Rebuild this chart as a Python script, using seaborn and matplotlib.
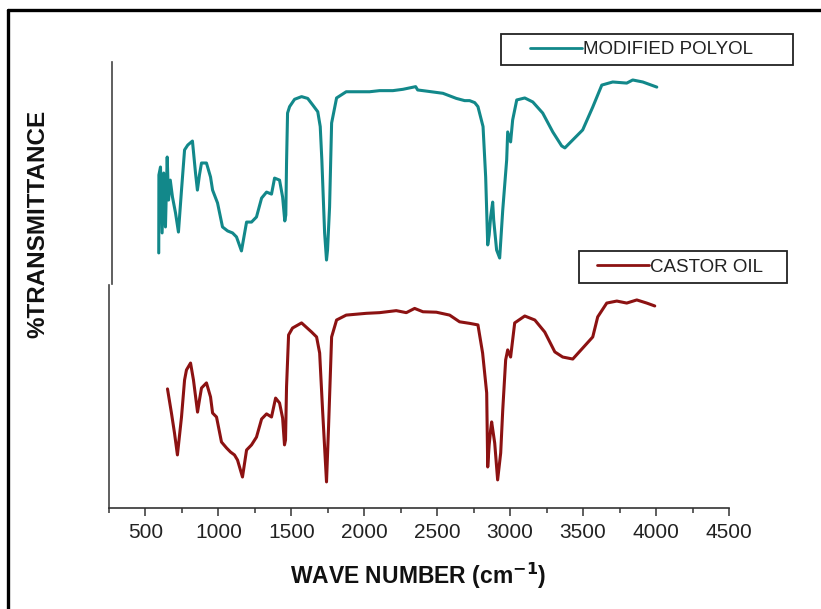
import matplotlib
matplotlib.use("Agg")
import matplotlib.pyplot as plt
from matplotlib.lines import Line2D
from matplotlib.patches import Rectangle
from matplotlib.ticker import MultipleLocator, FixedLocator
import pandas as pd
import seaborn as sns

# FTIR spectra: wavenumber (cm^-1) and relative transmittance (%)
polyol_wn = [591, 592, 603, 614, 625, 637, 649, 658, 670, 685, 706, 726, 747, 768, 790,
             822, 843, 856, 870, 884, 918, 946, 960, 994, 1028, 1063, 1097, 1124, 1158,
             1193, 1227, 1261, 1296, 1330, 1364, 1385, 1419, 1440, 1455, 1462, 1467, 1474,
             1488, 1522, 1570, 1612, 1647, 1681, 1698, 1709, 1728, 1741, 1748, 1762, 1776,
             1810, 1876, 2036, 2105, 2196, 2265, 2352, 2366, 2425, 2539, 2631, 2688, 2722,
             2757, 2779, 2814, 2832, 2846, 2856, 2866, 2880, 2887, 2907, 2928, 2949, 2976,
             2983, 3003, 3017, 3045, 3100, 3155, 3223, 3292, 3353, 3375, 3408, 3497, 3566,
             3628, 3703, 3799, 3840, 3909, 4005]
polyol_t = [14.0, 49.1, 52.7, 23.0, 50.0, 25.7, 57.2, 37.8, 46.8, 39.2, 32.0, 23.4, 42.3,
            60.4, 62.6, 64.4, 50.0, 42.3, 49.1, 54.5, 54.5, 48.2, 42.3, 36.5, 25.7, 23.9,
            23.0, 21.2, 14.9, 27.9, 27.9, 30.2, 38.7, 41.4, 40.5, 47.7, 46.8, 39.2, 28.4,
            31.1, 54.5, 77.0, 79.9, 83.2, 84.4, 83.6, 80.6, 77.6, 70.9, 55.9, 23.0, 10.8,
            15.3, 34.7, 72.5, 83.8, 86.6, 86.6, 87.1, 87.1, 87.7, 88.9, 87.4, 86.9, 85.9,
            83.6, 82.6, 82.6, 81.7, 79.9, 70.9, 48.2, 17.6, 22.1, 30.2, 36.9, 28.8, 15.3,
            11.7, 33.3, 55.9, 68.5, 64.0, 73.9, 82.9, 83.8, 82.0, 77.0, 68.5, 62.2, 61.3,
            63.5, 69.4, 79.7, 89.6, 91.0, 90.5, 91.9, 91.0, 88.7]

castor_wn = [651, 678, 699, 719, 747, 768, 781, 809, 829, 857, 870, 884, 918, 946, 960,
             987, 1021, 1056, 1083, 1110, 1131, 1165, 1193, 1227, 1261, 1296, 1330, 1364,
             1392, 1419, 1440, 1453, 1460, 1467, 1481, 1508, 1570, 1639, 1673, 1694, 1714,
             1741, 1755, 1776, 1810, 1876, 2014, 2105, 2219, 2288, 2345, 2402, 2494, 2585,
             2653, 2722, 2779, 2811, 2839, 2846, 2856, 2866, 2873, 2894, 2914, 2935, 2949,
             2969, 2983, 3003, 3031, 3100, 3169, 3237, 3306, 3360, 3429, 3497, 3566, 3600,
             3662, 3731, 3799, 3868, 3936, 3991]
castor_t = [53.4, 42.6, 33.6, 23.8, 40.8, 57.4, 61.9, 65.0, 57.4, 43.0, 48.4, 53.8, 56.1,
            49.8, 42.6, 40.8, 29.6, 26.9, 25.1, 23.8, 21.5, 13.9, 26.0, 28.3, 31.8, 39.9,
            42.2, 40.8, 49.3, 47.1, 40.4, 28.3, 30.5, 54.3, 77.6, 80.7, 83.0, 78.9, 76.7,
            69.5, 43.9, 11.7, 36.3, 76.7, 84.3, 86.5, 87.3, 87.6, 88.5, 87.6, 89.5, 88.0,
            87.8, 86.5, 83.5, 82.8, 82.1, 69.5, 51.6, 18.4, 28.3, 35.0, 38.6, 29.1, 12.6,
            24.7, 43.9, 66.4, 70.9, 67.7, 83.0, 86.1, 84.3, 78.9, 70.0, 67.7, 66.8, 71.7,
            76.7, 85.7, 91.9, 92.8, 91.9, 93.3, 91.9, 90.6]

series_names = ["MODIFIED POLYOL", "CASTOR OIL"]
series_colors = ["#12888a", "#8c1212"]
x_ticks = [500, 1000, 1500, 2000, 2500, 3000, 3500, 4000, 4500]

sns.set_theme(style="ticks")
plt.rcParams["font.family"] = ["Liberation Sans", "DejaVu Sans"]

W, H = 821, 609
fig = plt.figure(figsize=(W / 100, H / 100), dpi=100)


def px_box(left, top, right, bottom):
    return [left / W, 1 - bottom / H, (right - left) / W, (bottom - top) / H]


ax_top = fig.add_axes(px_box(109, 62, 729, 284))
ax_bot = fig.add_axes(px_box(109, 285, 729, 508))

frames = [
    pd.DataFrame({"wn": polyol_wn, "t": polyol_t}),
    pd.DataFrame({"wn": castor_wn, "t": castor_t}),
]

for ax, df, name, col in zip([ax_top, ax_bot], frames, series_names, series_colors):
    sns.lineplot(data=df, x="wn", y="t", ax=ax, color=col, lw=2.2,
                 sort=False, estimator=None, legend=False)
    ax.set_xlim(250, 4500)
    ax.set_ylim(0, 100)
    ax.set_xlabel("")
    ax.set_ylabel("")
    ax.set_yticks([])
    for s in ["top", "right"]:
        ax.spines[s].set_visible(False)
    ax.spines["left"].set_color("#444444")
    ax.spines["left"].set_linewidth(1.2)
    ax.patch.set_alpha(0)

# upper panel: only a left spine, slightly inset
ax_top.spines["bottom"].set_visible(False)
ax_top.spines["left"].set_position(("outward", -2))
ax_top.set_xticks([])

# lower panel: shared wavenumber axis
ax_bot.spines["bottom"].set_color("#333333")
ax_bot.spines["bottom"].set_linewidth(1.2)
ax_bot.xaxis.set_major_locator(FixedLocator(x_ticks))
ax_bot.xaxis.set_minor_locator(MultipleLocator(250))
ax_bot.tick_params(axis="x", which="major", length=5.5, width=1.1, color="#333333",
                   direction="out", pad=5, labelsize=15, labelcolor="#222222")
ax_bot.tick_params(axis="x", which="minor", length=3.5, width=1.1, color="#333333",
                   direction="out")

# legends, each in its own rectangular frame
legend_spec = [
    (ax_top, 0, (530, 49.5), (501, 34, 793, 65)),
    (ax_bot, 1, (597, 267), (579, 251, 787, 283)),
]
for ax, i, anchor, box in legend_spec:
    handle = Line2D([], [], color=series_colors[i], lw=2.0)
    leg = ax.legend([handle], [series_names[i]], loc="center left",
                    bbox_to_anchor=(anchor[0] / W, 1 - anchor[1] / H),
                    bbox_transform=fig.transFigure, frameon=False,
                    borderpad=0, borderaxespad=0, handlelength=2.75,
                    handletextpad=0.1, prop={"size": 13.5})
    for t in leg.get_texts():
        t.set_color("#222222")
    l, t_, r, b = box
    fig.add_artist(Rectangle((l / W, 1 - b / H), (r - l) / W, (b - t_) / H,
                             transform=fig.transFigure, fill=False,
                             edgecolor="#222222", lw=1.3))

# axis titles
fig.text(38 / W, 1 - 224 / H, "%TRANSMITTANCE", rotation=90, ha="center", va="center",
         fontsize=17.5, fontweight="bold", color="#111111")
fig.text(418 / W, 1 - 576 / H, r"WAVE NUMBER (cm$^{\mathbf{-1}}$)", ha="center",
         va="center", fontsize=16.5, fontweight="bold", color="#111111")

# outer frame (top and left edges)
fig.add_artist(Line2D([8 / W, 8 / W], [0, 1 - 10 / H], transform=fig.transFigure,
                      color="black", lw=2.4))
fig.add_artist(Line2D([8 / W, 1], [1 - 10 / H, 1 - 10 / H], transform=fig.transFigure,
                      color="black", lw=2.4))

fig.savefig("out.png", dpi=100, facecolor="white")
